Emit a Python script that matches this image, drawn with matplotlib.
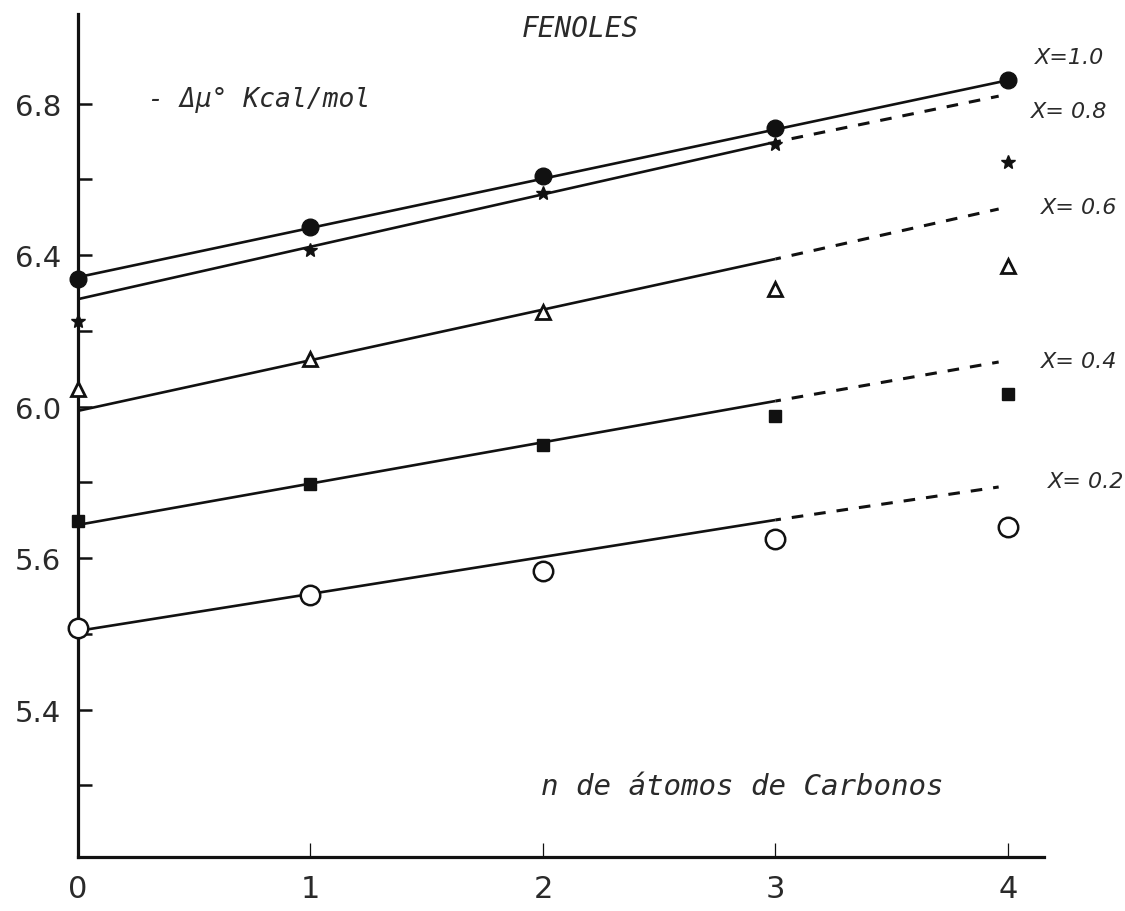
import numpy as np
import matplotlib
matplotlib.use('agg')
import matplotlib.pyplot as plt

# carbon atoms in the alkyl chain
n_carbon = [0, 1, 2, 3, 4]

# -delta mu0 (kcal/mol) for each mole fraction X
x_labels = ['X=1.0', 'X= 0.8', 'X= 0.6', 'X= 0.4', 'X= 0.2']
mu_x10 = [6.337, 6.474, 6.609, 6.736, 6.862]
mu_x08 = [6.226, 6.414, 6.564, 6.693, 6.646]
mu_x06 = [6.047, 6.126, 6.250, 6.311, 6.371]
mu_x04 = [5.698, 5.796, 5.899, 5.975, 6.033]
mu_x02 = [5.416, 5.503, 5.566, 5.650, 5.682]

# fitted lines: value at n=0, at n=3 and at the end of the dashed part
fit_x10 = [6.342, 6.862]
fit_x08 = [6.284, 6.699, 6.820]
fit_x06 = [5.989, 6.390, 6.522]
fit_x04 = [5.688, 6.015, 6.118]
fit_x02 = [5.408, 5.701, 5.788]
dash_end = 3.96

label_pos = [(4.116, 6.923), (4.10, 6.780), (4.14, 6.527), (4.14, 6.12), (4.17, 5.804)]

y_ticks = [6.8, 6.6, 6.4, 6.2, 6.0, 5.8, 5.6, 5.4, 5.2, 5.0]
y_ticklabels = ['6.8', '', '6.4', '', '6.0', '', '5.6', '', '5.4', '']

ink = '#111111'
txt = '#2a2a2a'
lettering = dict(family='DejaVu Sans Mono', style='italic', color=txt)

fig = plt.figure(figsize=(11.25, 9.12), dpi=100)
ax = fig.add_axes([0.0693, 0.0592, 0.8587, 0.9244])

# X = 1.0 : filled circles, single solid line
ax.plot([0, 4], fit_x10, color=ink, lw=1.9, solid_capstyle='butt')
ax.plot(n_carbon, mu_x10, 'o', ms=12, color=ink, clip_on=False, zorder=5)

fits = [fit_x08, fit_x06, fit_x04, fit_x02]
for f in fits:
    ax.plot([0, 3], f[:2], color=ink, lw=1.9, solid_capstyle='butt')
    ax.plot([3, dash_end], f[1:], color=ink, lw=2.2,
            linestyle=(2, (3.8, 3.6)), dash_capstyle='butt')

ax.plot(n_carbon, mu_x08, '*', ms=10, color=ink, clip_on=False, zorder=5)
ax.plot(n_carbon, mu_x06, '^', ms=10, mfc='white', mec=ink, mew=2,
        clip_on=False, zorder=5)
ax.plot(n_carbon, mu_x04, 's', ms=9, color=ink, clip_on=False, zorder=5)
ax.plot(n_carbon, mu_x02, 'o', ms=14, mfc='white', mec=ink, mew=1.8,
        clip_on=False, zorder=5)

for lab, (lx, ly) in zip(x_labels, label_pos):
    ax.text(lx, ly, lab, fontsize=16, style='italic', color=txt,
            ha='left', va='center', clip_on=False)

ax.text(2.16, 7.0, 'FENOLES', fontsize=20, ha='center', va='center',
        **lettering)
ax.text(0.30, 6.812, '- Δμ° Kcal/mol', fontsize=19, ha='left',
        va='center', **lettering)
ax.text(1.99, 4.999, 'n de átomos de Carbonos', fontsize=21, ha='left',
        va='center', **lettering)

ax.set_xlim(0, 4.155)
ax.set_ylim(4.811, 7.037)
ax.set_xticks(n_carbon)
ax.set_yticks(y_ticks)
ax.set_yticklabels(y_ticklabels)

for s in ['top', 'right']:
    ax.spines[s].set_visible(False)
for s in ['left', 'bottom']:
    ax.spines[s].set_linewidth(2.3)
    ax.spines[s].set_color(ink)

ax.tick_params(axis='y', direction='in', length=10, width=1.8, pad=12,
               labelsize=21, colors=ink, labelcolor=txt)
ax.tick_params(axis='x', direction='in', length=10, width=0.9, pad=12,
               labelsize=22, colors=ink, labelcolor=txt)

fig.savefig('out.png', dpi=100, facecolor='white')
